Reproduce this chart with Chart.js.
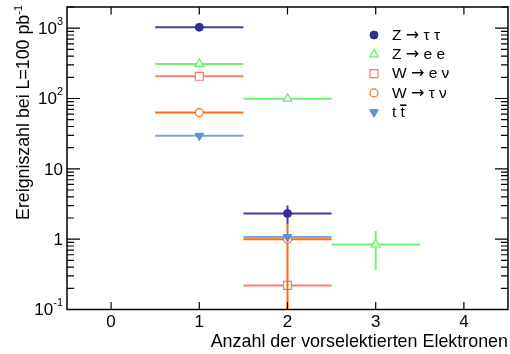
<!DOCTYPE html>
<html>
<head>
<meta charset="utf-8">
<script src="https://cdn.jsdelivr.net/npm/chart.js@4/dist/chart.umd.min.js"></script>
<style>
  html, body { margin: 0; padding: 0; background: #ffffff; }
  #wrap { width: 510px; height: 354px; }
</style>
</head>
<body>
<div id="wrap"><canvas id="c" width="510" height="354"></canvas></div>
<script>
// Number of preselected electrons per event, expected events for L = 100 pb^-1
const binHalfWidth = 0.5;

const ztautauX = [1, 2];
const ztautauY = [1030, 2.32];
const ztautauErrUp = [0, 0.7];
const ztautauErrDown = [0, 0.7];

const zeeX = [1, 2, 3];
const zeeY = [310, 99, 0.84];
const zeeErrUp = [0, 0, 0.47];
const zeeErrDown = [0, 0, 0.48];

const wenuX = [1, 2];
const wenuY = [207, 0.22];
const wenuErrUp = [0, 0];
const wenuErrDown = [0, 0];

const wtaunuX = [1, 2];
const wtaunuY = [63, 1.0];
const wtaunuErrUp = [0, 0.65];
const wtaunuErrDown = [0, 1.0];

const ttbarX = [1, 2];
const ttbarY = [29.5, 1.07];
const ttbarErrUp = [0, 0];
const ttbarErrDown = [0, 0];

const seriesLabels = ['Z \u2192 \u03c4 \u03c4', 'Z \u2192 e e', 'W \u2192 e \u03bd', 'W \u2192 \u03c4 \u03bd', 't t\u0304'];

const xTickValues = [0, 1, 2, 3, 4];
const yTickValues = [0.1, 1, 10, 100, 1000];
const yTickBase = ['10', '1', '10', '10', '10'];
const yTickExp = ['-1', '', '', '2', '3'];

const xTitle = 'Anzahl der vorselektierten Elektronen';
const yTitle = 'Ereigniszahl bei L=100 pb';
const yTitleExp = '-1';

const FONT = '"Liberation Sans", Arial, Helvetica, sans-serif';
const ARROW_FONT = '"DejaVu Sans", sans-serif';

function points(xs, ys) {
  return xs.map((x, i) => ({ x: x, y: ys[i] }));
}

function makeSeries(label, xs, ys, up, down, style, order) {
  return Object.assign({
    label: label,
    data: points(xs, ys),
    errUp: up,
    errDown: down,
    order: order,
    showLine: false
  }, style);
}

const datasets = [
  makeSeries(seriesLabels[0], ztautauX, ztautauY, ztautauErrUp, ztautauErrDown, {
    pointStyle: 'circle', pointRadius: 4, backgroundColor: '#30308f', borderColor: '#30308f',
    pointBorderWidth: 1, barColor: '#40409c'
  }, 5),
  makeSeries(seriesLabels[1], zeeX, zeeY, zeeErrUp, zeeErrDown, {
    pointStyle: 'triangle', pointRadius: 5, backgroundColor: '#ffffff', borderColor: '#5cf25c',
    pointBorderWidth: 1.2, barColor: '#6cf56c'
  }, 4),
  makeSeries(seriesLabels[2], wenuX, wenuY, wenuErrUp, wenuErrDown, {
    pointStyle: 'rect', pointRadius: 5.6, backgroundColor: '#ffffff', borderColor: '#ff7070',
    pointBorderWidth: 1.2, barColor: '#ff7a7a'
  }, 3),
  makeSeries(seriesLabels[3], wtaunuX, wtaunuY, wtaunuErrUp, wtaunuErrDown, {
    pointStyle: 'circle', pointRadius: 4, backgroundColor: '#ffffff', borderColor: '#ff6a10',
    pointBorderWidth: 1.2, barColor: '#ff6a10'
  }, 2),
  makeSeries(seriesLabels[4], ttbarX, ttbarY, ttbarErrUp, ttbarErrDown, {
    pointStyle: 'triangle', pointRotation: 180, pointRadius: 5, backgroundColor: '#5e90cf', borderColor: '#5e90cf',
    pointBorderWidth: 1, barColor: '#78a6dc'
  }, 1)
];

// Horizontal bin-width bars and vertical uncertainty bars, drawn under each series' markers
const errorBars = {
  id: 'errorBars',
  beforeDatasetDraw(chart, args) {
    const ds = chart.data.datasets[args.index];
    const xs = chart.scales.x, ys = chart.scales.y;
    const area = chart.chartArea;
    const ctx = chart.ctx;
    ctx.save();
    ctx.beginPath();
    ctx.rect(area.left, area.top, area.right - area.left, area.bottom - area.top);
    ctx.clip();
    ctx.strokeStyle = ds.barColor;
    ctx.lineWidth = 2;
    ds.data.forEach((p, i) => {
      const yc = ys.getPixelForValue(p.y);
      const xc = xs.getPixelForValue(p.x);
      ctx.beginPath();
      ctx.moveTo(xs.getPixelForValue(p.x - binHalfWidth), yc);
      ctx.lineTo(xs.getPixelForValue(p.x + binHalfWidth), yc);
      ctx.stroke();
      const up = ds.errUp[i], dn = ds.errDown[i];
      if (up > 0 || dn > 0) {
        const top = ys.getPixelForValue(p.y + up);
        const low = p.y - dn;
        const bottom = low > ys.min ? ys.getPixelForValue(low) : area.bottom;
        ctx.beginPath();
        ctx.moveTo(xc, top);
        ctx.lineTo(xc, bottom);
        ctx.stroke();
      }
    });
    ctx.restore();
  }
};

function textWithExp(ctx, base, exp, x, y, size, align) {
  // base text plus a raised exponent; x is the right edge when align === 'right'
  ctx.font = size + 'px ' + FONT;
  const wb = ctx.measureText(base).width;
  const esize = Math.round(size * 0.62);
  ctx.font = esize + 'px ' + FONT;
  const we = exp ? ctx.measureText(exp).width : 0;
  let x0 = align === 'right' ? x - wb - we : (align === 'center' ? x - (wb + we) / 2 : x);
  ctx.textAlign = 'left';
  ctx.font = size + 'px ' + FONT;
  ctx.fillText(base, x0, y);
  if (exp) {
    ctx.font = esize + 'px ' + FONT;
    ctx.fillText(exp, x0 + wb, y - size * 0.42);
  }
}

function drawMarker(ctx, ds, x, y) {
  ctx.save();
  ctx.fillStyle = ds.backgroundColor;
  ctx.strokeStyle = ds.borderColor;
  ctx.lineWidth = ds.pointBorderWidth;
  Chart.helpers.drawPoint(ctx, {
    pointStyle: ds.pointStyle,
    radius: ds.pointRadius,
    rotation: ds.pointRotation || 0,
    borderWidth: ds.pointBorderWidth
  }, x, y);
  ctx.restore();
}

// Legend label: arrow set in a font with a long, bold arrow; a combining macron becomes an overline
function drawLegendLabel(ctx, label, x, y) {
  const textFont = '15.5px ' + FONT;
  const arrowFont = '16px ' + ARROW_FONT;
  const bar = label.indexOf('\u0304');
  const plain = label.replace('\u0304', '');
  let cx = x;
  const parts = plain.split('\u2192');
  parts.forEach((part, k) => {
    ctx.font = textFont;
    ctx.fillText(part, cx, y);
    if (bar > 0 && parts.length === 1) {
      const before = ctx.measureText(part.slice(0, bar - 1)).width;
      const w = ctx.measureText(part.charAt(bar - 1)).width;
      ctx.save();
      ctx.strokeStyle = '#000000';
      ctx.lineWidth = 1.6;
      ctx.beginPath();
      ctx.moveTo(cx + before - 0.5, y - 7.5);
      ctx.lineTo(cx + before + w + 1.5, y - 7.5);
      ctx.stroke();
      ctx.restore();
    }
    cx += ctx.measureText(part).width;
    if (k < parts.length - 1) {
      ctx.font = arrowFont;
      ctx.fillText('\u2192', cx, y);
      cx += ctx.measureText('\u2192').width;
    }
  });
}

// Frame with inward ticks on all four sides, tick labels, axis titles and the legend
const frame = {
  id: 'frame',
  afterDatasetsDraw(chart) {
    const ctx = chart.ctx;
    const a = chart.chartArea;
    const xs = chart.scales.x, ys = chart.scales.y;
    ctx.save();
    ctx.strokeStyle = '#000000';
    ctx.fillStyle = '#000000';
    ctx.lineWidth = 1.5;
    ctx.strokeRect(a.left, a.top, a.right - a.left, a.bottom - a.top);

    ctx.lineWidth = 1.2;
    ctx.beginPath();
    xTickValues.forEach(v => {
      const px = xs.getPixelForValue(v);
      ctx.moveTo(px, a.bottom); ctx.lineTo(px, a.bottom - 7.5);
      ctx.moveTo(px, a.top); ctx.lineTo(px, a.top + 7.5);
    });
    const lo = Math.log10(ys.min), hi = Math.log10(ys.max);
    for (let d = Math.floor(lo); d <= Math.ceil(hi); d++) {
      for (let m = 1; m <= 9; m++) {
        const v = m * Math.pow(10, d);
        if (v < ys.min * 0.999 || v > ys.max * 1.001) continue;
        const py = ys.getPixelForValue(v);
        const len = m === 1 ? 13 : 7;
        ctx.moveTo(a.left, py); ctx.lineTo(a.left + len, py);
        ctx.moveTo(a.right, py); ctx.lineTo(a.right - len, py);
      }
    }
    ctx.stroke();

    ctx.textBaseline = 'middle';
    ctx.textAlign = 'center';
    ctx.font = '17px ' + FONT;
    xTickValues.forEach(v => {
      ctx.fillText(String(v), xs.getPixelForValue(v), a.bottom + 13);
    });
    yTickValues.forEach((v, i) => {
      const py = ys.getPixelForValue(v);
      textWithExp(ctx, yTickBase[i], yTickExp[i], a.left - 4, py + 1, 17, 'right');
    });

    ctx.textBaseline = 'alphabetic';
    ctx.textAlign = 'right';
    ctx.font = '17.9px ' + FONT;
    ctx.fillText(xTitle, a.right, a.bottom + 37.5);

    ctx.save();
    ctx.translate(29, a.top - 2);
    ctx.rotate(-Math.PI / 2);
    textWithExp(ctx, yTitle, yTitleExp, 0, 0, 17.8, 'right');
    ctx.restore();

    // legend
    const lx = 374, tx = 392, ly0 = 35, dy = 19.3;
    ctx.textBaseline = 'middle';
    ctx.textAlign = 'left';
    chart.data.datasets.forEach((ds, i) => {
      const y = ly0 + i * dy;
      drawMarker(ctx, ds, lx, y);
      ctx.fillStyle = '#000000';
      drawLegendLabel(ctx, ds.label, tx, y + 0.5);
    });
    ctx.restore();
  }
};

new Chart(document.getElementById('c'), {
  type: 'scatter',
  data: { datasets: datasets },
  options: {
    responsive: false,
    animation: false,
    devicePixelRatio: 1,
    layout: { autoPadding: false, padding: { left: 67, right: 2, top: 7, bottom: 44.5 } },
    plugins: { legend: { display: false }, tooltip: { enabled: false } },
    elements: { point: { hoverRadius: 4 } },
    scales: {
      x: { type: 'linear', min: -0.5, max: 4.5, display: false },
      y: { type: 'logarithmic', min: 0.1, max: 2000, display: false }
    }
  },
  plugins: [errorBars, frame]
});
</script>
</body>
</html>
